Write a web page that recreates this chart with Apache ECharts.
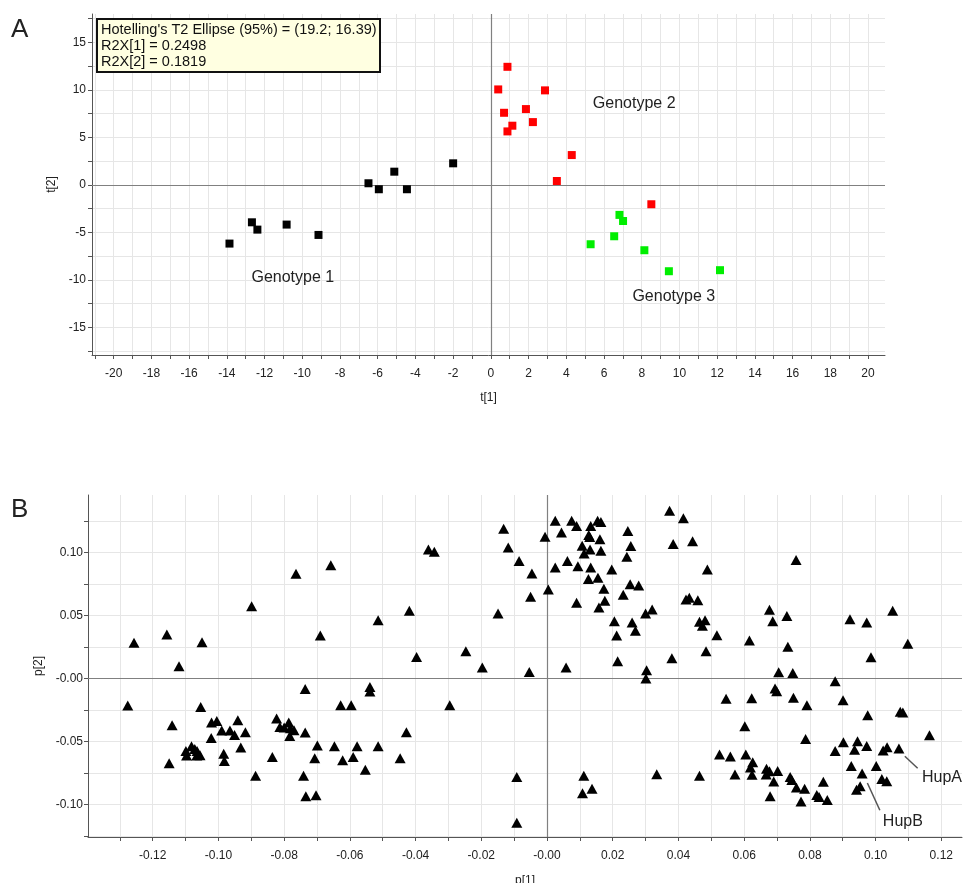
<!DOCTYPE html>
<html><head><meta charset="utf-8">
<script src="https://cdn.jsdelivr.net/npm/echarts@6/dist/echarts.min.js"></script>
<style>html,body{margin:0;padding:0;background:#fff}#c{width:963px;height:883px}</style>
</head><body><div id="c"></div>
<script>
// ---------- Panel A: scores ----------
const genotype1 = [[-13.86,-6.17],[-12.67,-3.93],[-12.38,-4.70],[-10.83,-4.17],[-9.14,-5.26],
  [-6.49,0.18],[-5.94,-0.45],[-5.12,1.40],[-4.45,-0.45],[-2.0,2.28]];
const genotype2 = [[0.88,12.44],[0.39,10.06],[2.87,9.96],[0.70,7.60],[1.86,7.99],[1.14,6.24],
  [2.23,6.62],[0.88,5.64],[4.29,3.15],[3.50,0.42],[8.51,-2.03]];
const genotype3 = [[6.82,-3.15],[7.01,-3.79],[6.54,-5.40],[5.29,-6.24],[8.14,-6.87],[9.44,-9.08],[12.15,-8.97]];
const groupNames = ['Genotype 1','Genotype 2','Genotype 3'];
const infoLines = ["Hotelling's T2 Ellipse (95%) = (19.2; 16.39)", 'R2X[1] = 0.2498', 'R2X[2] = 0.1819'];
const tXTicks = [-21,-20,-19,-18,-17,-16,-15,-14,-13,-12,-11,-10,-9,-8,-7,-6,-5,-4,-3,-2,-1,0,1,2,3,4,5,6,7,8,9,10,11,12,13,14,15,16,17,18,19,20];
const tXLabels = [-20,-18,-16,-14,-12,-10,-8,-6,-4,-2,0,2,4,6,8,10,12,14,16,18,20];
const tYTicks = [-17.5,-15,-12.5,-10,-7.5,-5,-2.5,0,2.5,5,7.5,10,12.5,15,17.5];
const tYLabels = [-15,-10,-5,0,5,10,15];

// ---------- Panel B: loadings ----------
const loadings = [
  [-0.1257,0.0284],[-0.1276,-0.0214],[-0.1157,0.0350],[-0.1120,0.0099],[-0.1050,0.0289],
  [-0.1141,-0.0370],[-0.1150,-0.0673],[-0.1054,-0.0225],[-0.0899,0.0575],[-0.0764,0.0832],
  [-0.0690,0.0342],[-0.0658,0.0901],[-0.0736,-0.0082],[-0.0736,-0.0429],[-0.0699,-0.0532],
  [-0.0707,-0.0633],[-0.0741,-0.0771],[-0.0734,-0.0935],[-0.0703,-0.0927],[-0.0887,-0.0771],
  [-0.0836,-0.0622],[-0.1099,-0.0575],[-0.1082,-0.0537],[-0.1097,-0.0611],[-0.1065,-0.0575],
  [-0.1056,-0.0609],[-0.1066,-0.0611],[-0.1072,-0.0559],[-0.1022,-0.0471],[-0.1021,-0.0349],
  [-0.1005,-0.0336],[-0.0990,-0.0413],[-0.0984,-0.0596],[-0.0982,-0.0654],[-0.0965,-0.0413],
  [-0.0951,-0.0447],[-0.0941,-0.0331],[-0.0918,-0.0426],[-0.0932,-0.0548],[-0.0823,-0.0317],
  [-0.0813,-0.0384],[-0.0800,-0.0389],[-0.0786,-0.0349],[-0.0781,-0.0394],[-0.0770,-0.0410],
  [-0.0783,-0.0455],
  [-0.0361,0.1026],[-0.0343,0.1007],[-0.0514,0.0464],[-0.0419,0.0538],[-0.0397,0.0172],
  [-0.0247,0.0218],[-0.0197,0.0088],[-0.0149,0.0517],[-0.0132,0.1190],[-0.0118,0.1042],
  [-0.0085,0.0933],[-0.0046,0.0835],[-0.0050,0.0649],[-0.0054,0.0053],[-0.0006,0.1127],
  [0.0004,0.0708],[0.0058,0.0088],
  [0.0025,0.1254],[0.0075,0.1254],[0.0090,0.1211],[0.0044,0.1161],[0.0133,0.1211],
  [0.0154,0.1254],[0.0164,0.1243],[0.0127,0.1140],[0.0130,0.1125],[0.0161,0.1106],
  [0.0107,0.1055],[0.0131,0.1026],[0.0113,0.0994],[0.0164,0.1015],[0.0246,0.1172],
  [0.0255,0.1052],[0.0243,0.0967],[0.0062,0.0933],[0.0025,0.0883],[0.0094,0.0893],
  [0.0133,0.0883],[0.0197,0.0867],[0.0126,0.0790],[0.0155,0.0800],[0.0173,0.0713],
  [0.0253,0.0750],[0.0279,0.0740],[0.0232,0.0665],[0.0090,0.0602],[0.0176,0.0618],
  [0.0158,0.0565],[0.0205,0.0456],[0.0259,0.0446],[0.0269,0.0379],[0.0300,0.0517],
  [0.0320,0.0549],[0.0212,0.0343],[0.0215,0.0138],[0.0303,0.0067],[0.0301,0.0001],
  [-0.0539,-0.0066],[-0.0539,-0.0103],[-0.0628,-0.0211],[-0.0596,-0.0211],[-0.0296,-0.0211],
  [-0.0428,-0.0426],[-0.0647,-0.0537],[-0.0578,-0.0537],[-0.0514,-0.0537],[-0.0622,-0.0649],
  [-0.0590,-0.0622],[-0.0553,-0.0723],[-0.0447,-0.0633],[-0.0092,-0.0781],[-0.0092,-0.1144],
  [0.0112,-0.0771],[0.0108,-0.0911],[0.0137,-0.0874],
  [0.0373,0.1333],[0.0415,0.1273],[0.0384,0.1068],[0.0443,0.1090],[0.0488,0.0867],
  [0.0423,0.0629],[0.0433,0.0642],[0.0459,0.0623],[0.0464,0.0451],[0.0481,0.0464],
  [0.0473,0.0419],[0.0517,0.0345],[0.0484,0.0218],[0.0380,0.0162],[0.0758,0.0941],
  [0.0677,0.0546],[0.0730,0.0498],[0.0687,0.0456],[0.0616,0.0303],[0.0733,0.0252],
  [0.0705,0.0051],[0.0748,0.0045],[0.0922,0.0472],[0.0973,0.0446],[0.1052,0.0538],
  [0.1098,0.0276],[0.0986,0.0170],[0.0877,-0.0021],[0.0694,-0.0079],[0.0699,-0.0100],
  [0.0750,-0.0153],[0.0791,-0.0211],[0.0901,-0.0172],[0.0545,-0.0161],[0.0623,-0.0156],
  [0.0976,-0.0291],[0.1075,-0.0264],[0.1083,-0.0270],[0.1164,-0.0450],[0.0602,-0.0378],
  [0.0787,-0.0479],[0.0902,-0.0505],[0.0945,-0.0497],[0.0973,-0.0536],[0.0877,-0.0576],
  [0.0936,-0.0566],[0.1023,-0.0572],[0.1035,-0.0545],[0.1071,-0.0555],[0.0525,-0.0602],
  [0.0558,-0.0618],[0.0605,-0.0602],[0.0626,-0.0665],[0.0619,-0.0706],[0.0624,-0.0764],
  [0.0572,-0.0761],[0.0334,-0.0760],[0.0464,-0.0772],[0.0668,-0.0715],[0.0667,-0.0762],
  [0.0677,-0.0736],[0.0702,-0.0734],[0.0690,-0.0817],[0.0679,-0.0935],[0.0740,-0.0781],
  [0.0745,-0.0805],[0.0759,-0.0865],[0.0784,-0.0874],[0.0773,-0.0976],[0.0821,-0.0925],
  [0.0828,-0.0940],[0.0841,-0.0819],[0.0853,-0.0964],[0.0926,-0.0695],[0.0959,-0.0754],
  [0.1002,-0.0695],[0.1019,-0.0798],[0.1034,-0.0815],[0.0942,-0.0882],[0.0953,-0.0854]
];
const markerNames = ['HupA','HupB'];
const pXTicks = [-0.13,-0.12,-0.11,-0.10,-0.09,-0.08,-0.07,-0.06,-0.05,-0.04,-0.03,-0.02,-0.01,0,0.01,0.02,0.03,0.04,0.05,0.06,0.07,0.08,0.09,0.10,0.11,0.12];
const pXLabels = [-0.12,-0.10,-0.08,-0.06,-0.04,-0.02,0,0.02,0.04,0.06,0.08,0.10,0.12];
const pYTicks = [-0.125,-0.1,-0.075,-0.05,-0.025,0,0.025,0.05,0.075,0.1,0.125];
const pYLabels = [-0.10,-0.05,0,0.05,0.10];

const FONT = '"Liberation Sans", Arial, sans-serif';
const AX = '#555', GRID = '#e6e6e6', TXT = '#222';
const fmt2 = v => (Math.abs(v) < 1e-9 ? '-0.00' : v.toFixed(2));

function axis(gridIndex, min, max, ticks, labels, formatter, name, nameGap, margin, isY) {
  return {
    type: 'value', gridIndex, min, max, scale: true,
    name, nameLocation: 'middle', nameGap, nameRotate: isY ? 90 : 0,
    nameTextStyle: { fontSize: 12, color: TXT, fontFamily: FONT },
    axisLine: { show: true, onZero: false, lineStyle: { color: AX, width: 1 } },
    axisTick: { show: true, customValues: ticks, length: 4, lineStyle: { color: AX } },
    axisLabel: { customValues: labels, formatter, margin, fontSize: 12, color: TXT, fontFamily: FONT },
    splitLine: { show: true, lineStyle: { color: GRID, width: 1 } }
  };
}
const zeroLine = {
  silent: true, symbol: ['none', 'none'], animation: false, z: 1,
  label: { show: false },
  lineStyle: { color: '#808080', width: 1.2, type: 'solid', opacity: 1 },
  data: [{ xAxis: 0 }, { yAxis: 0 }]
};
const textStyleLbl = (size) => ({ show: true, position: 'inside', formatter: '{b}', fontSize: size, color: TXT, fontFamily: FONT, opacity: 1 });

const chart = echarts.init(document.getElementById('c'), null, { renderer: 'canvas' });
chart.setOption({
  animation: false,
  backgroundColor: '#fff',
  title: [
    { text: 'A', left: 11, top: 17, padding: 0, textStyle: { fontSize: 26, fontWeight: 'normal', color: '#222', fontFamily: FONT } },
    { text: 'B', left: 11, top: 497, padding: 0, textStyle: { fontSize: 26, fontWeight: 'normal', color: '#222', fontFamily: FONT } },
    { text: infoLines.join('\n'), left: 97, top: 19, padding: [3, 4, 2, 4],
      backgroundColor: '#ffffe1', borderColor: '#111', borderWidth: 2,
      textStyle: { fontSize: 14.5, lineHeight: 16, fontWeight: 'normal', color: '#111', fontFamily: FONT } }
  ],
  grid: [
    { left: 92, right: 78, top: 14, bottom: 528, outerBoundsMode: 'none', containLabel: false },
    { left: 88, right: 1, top: 495, bottom: 46, outerBoundsMode: 'none', containLabel: false }
  ],
  xAxis: [
    axis(0, -21.15, 20.9, tXTicks, tXLabels, v => String(v), 't[1]', 37, 13, false),
    axis(1, -0.1397, 0.1263, pXTicks, pXLabels, fmt2, 'p[1]', 38, 13, false)
  ],
  yAxis: [
    axis(0, -17.9, 18, tYTicks, tYLabels, v => String(v), 't[2]', 31, 6, true),
    axis(1, -0.1258, 0.1458, pYTicks, pYLabels, fmt2, 'p[2]', 40, 5, true)
  ],
  series: [
    { type: 'scatter', name: groupNames[0], xAxisIndex: 0, yAxisIndex: 0, data: genotype1,
      symbol: 'rect', symbolSize: 8, itemStyle: { color: '#000', opacity: 1 }, z: 3, markLine: zeroLine },
    { type: 'scatter', name: groupNames[1], xAxisIndex: 0, yAxisIndex: 0, data: genotype2,
      symbol: 'rect', symbolSize: 8, itemStyle: { color: '#ff0000', opacity: 1 }, z: 3 },
    { type: 'scatter', name: groupNames[2], xAxisIndex: 0, yAxisIndex: 0, data: genotype3,
      symbol: 'rect', symbolSize: 8, itemStyle: { color: '#00ee00', opacity: 1 }, z: 3 },
    { type: 'scatter', xAxisIndex: 0, yAxisIndex: 0, symbolSize: 0, silent: true, z: 4,
      itemStyle: { opacity: 1 }, label: textStyleLbl(16),
      data: [
        { name: groupNames[0], value: [-10.5, -9.7] },
        { name: groupNames[1], value: [7.6, 8.6] },
        { name: groupNames[2], value: [9.7, -11.8] }
      ] },
    { type: 'scatter', name: 'loadings', xAxisIndex: 1, yAxisIndex: 1, data: loadings,
      symbol: 'triangle', symbolSize: [11, 10], itemStyle: { color: '#000', opacity: 1 }, z: 3,
      markLine: zeroLine },
    { type: 'line', xAxisIndex: 1, yAxisIndex: 1, silent: true, symbol: 'none', z: 2,
      lineStyle: { color: '#555', width: 1.5 }, data: [],
      markLine: { silent: true, symbol: ['none', 'none'], label: { show: false },
        lineStyle: { color: '#555', width: 1.5, type: 'solid', opacity: 1 },
        data: [
          [{ coord: [0.1089, -0.0617] }, { coord: [0.1128, -0.0712] }],
          [{ coord: [0.0975, -0.0829] }, { coord: [0.1013, -0.1046] }]
        ] } },
    { type: 'scatter', xAxisIndex: 1, yAxisIndex: 1, symbolSize: 0, silent: true, z: 4,
      itemStyle: { opacity: 1 }, label: textStyleLbl(16),
      data: [
        { name: markerNames[0], value: [0.1202, -0.0784] },
        { name: markerNames[1], value: [0.1083, -0.1132] }
      ] }
  ]
});
</script></body></html>
